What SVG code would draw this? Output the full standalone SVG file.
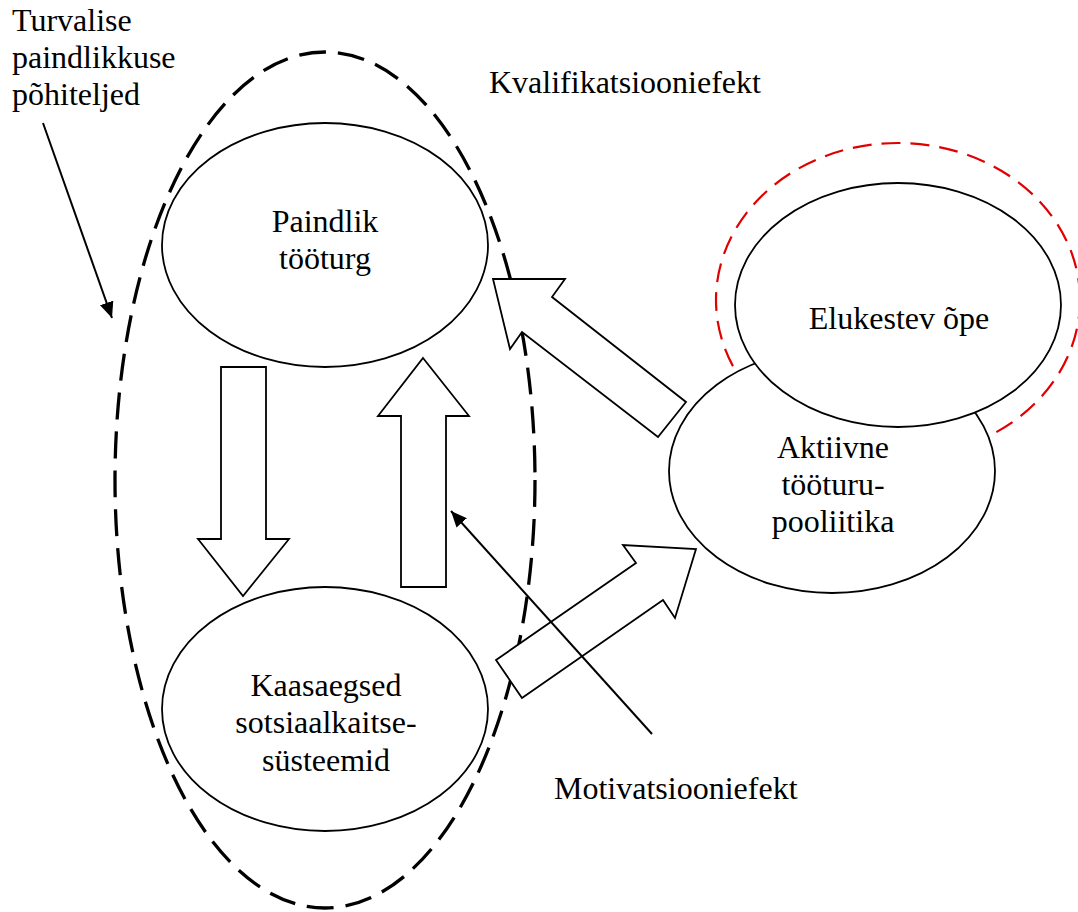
<svg xmlns="http://www.w3.org/2000/svg" width="1078" height="912" viewBox="0 0 1078 912">
<style>
text{font-family:"Liberation Serif","Times New Roman",serif;font-size:32px;fill:#000}
.c{text-anchor:middle}
.node{fill:#fff;stroke:#000;stroke-width:1.8}
.block{fill:#fff;stroke:#000;stroke-width:1.8;stroke-linejoin:miter}
.line{stroke:#000;stroke-width:2;fill:none}
</style>
<defs>
<marker id="ah" markerUnits="userSpaceOnUse" markerWidth="18" markerHeight="14" refX="16" refY="7" orient="auto">
<path d="M0,0 L16,7 L0,14 Z" fill="#000"/>
</marker>
</defs>
<rect width="1078" height="912" fill="#fff"/>
<g id="pillars-boundary">
<ellipse cx="325" cy="480" rx="210" ry="428" fill="none" stroke="#000" stroke-width="3.3" stroke-dasharray="27 12"/>
</g>
<g id="lifelong-halo">
<ellipse cx="898" cy="300" rx="182" ry="157" fill="none" stroke="#e00000" stroke-width="2.2" stroke-dasharray="19 10"/>
</g>
<g id="node-paindlik">
<ellipse class="node" cx="325" cy="245" rx="163" ry="122"/>
<text class="c" x="325" y="232">Paindlik</text>
<text class="c" x="325" y="269">tööturg</text>
</g>
<g id="node-kaasaegsed">
<ellipse class="node" cx="325" cy="709" rx="163" ry="122"/>
<text class="c" x="326" y="696">Kaasaegsed</text>
<text class="c" x="326" y="733">sotsiaalkaitse-</text>
<text class="c" x="326" y="771">süsteemid</text>
</g>
<g id="node-aktiivne">
<ellipse class="node" cx="832" cy="471" rx="163" ry="122"/>
<text class="c" x="833" y="458">Aktiivne</text>
<text class="c" x="833" y="495">tööturu-</text>
<text class="c" x="833" y="532">pooliitika</text>
</g>
<g id="node-elukestev">
<ellipse class="node" cx="898" cy="305" rx="163" ry="122"/>
<text class="c" x="899" y="329">Elukestev õpe</text>
</g>
<g id="connectors">
<polygon class="block" points="221,367 266,367 266,539 289,539 243,596 198,539 221,539"/>
<polygon class="block" points="423,358 469,416 446,416 446,587 401,587 401,416 378,416"/>
<polygon class="block" points="493,279 565,279 552,297 686,402 658,437 522,332 510,349"/>
<polygon class="block" points="696,549 675,618 663,600 522,698 496,660 636,563 623,545"/>
<line class="line" x1="43" y1="123" x2="112" y2="318" marker-end="url(#ah)"/>
<line class="line" x1="652" y1="734" x2="451" y2="511" marker-end="url(#ah)"/>
</g>
<g id="labels">
<text x="12" y="31">Turvalise</text>
<text x="12" y="68">paindlikkuse</text>
<text x="12" y="105">põhiteljed</text>
<text x="489" y="93">Kvalifikatsiooniefekt</text>
<text x="554" y="799">Motivatsiooniefekt</text>
</g>
</svg>
